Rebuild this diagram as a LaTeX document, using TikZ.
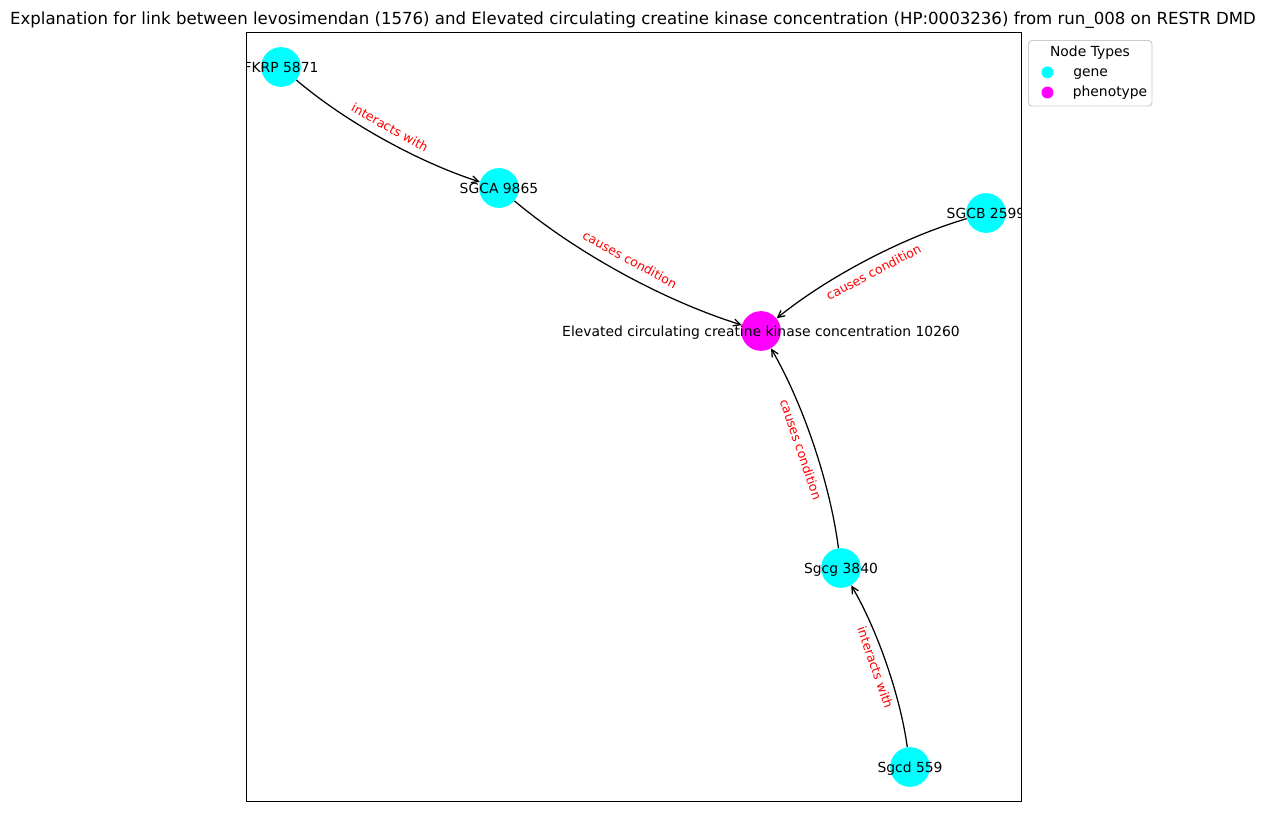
\documentclass[tikz,border=0pt]{standalone}
\usepackage{fontspec}
\setmainfont{DejaVu Sans}
\usetikzlibrary{arrows.meta}
\definecolor{genecol}{RGB}{0,255,255}
\definecolor{phencol}{RGB}{255,0,255}
\definecolor{framegray}{gray}{0.8}

\tikzset{
  gene/.style={circle, fill=genecol, draw=none, minimum size=28.6pt, inner sep=0pt},
  phen/.style={circle, fill=phencol, draw=none, minimum size=28.6pt, inner sep=0pt},
  nlabel/.style={font=\fontsize{10}{12}\selectfont, text depth=0pt, inner sep=0pt, text=black},
  elabel/.style={font=\fontsize{9}{11}\selectfont, text=red, text depth=0pt, inner sep=0pt, sloped},
  link/.style={-{Straight Barb[length=5pt,width=5pt]}, line width=0.9pt},
}

\begin{document}
\begin{tikzpicture}[x=0.72pt, y=-0.72pt]
\useasboundingbox (0,0) rectangle (1266,812);

% title
\node[anchor=base, inner sep=0pt] (title) at (633,24)
  {\resizebox{897pt}{\height}{\fontsize{12}{14}\selectfont Explanation for link between levosimendan (1576) and Elevated circulating creatine kinase concentration (HP:0003236) from run\_008 on RESTR DMD}};

\begin{scope}
  \clip (246.5,32.5) rectangle (1021.5,801.5);

  % nodes
  \node[gene, label={[nlabel]center:FKRP 5871}] (fkrp) at (281,67) {};
  \node[gene, label={[nlabel]center:SGCA 9865}] (sgca) at (499,188) {};
  \node[gene, label={[nlabel]center:SGCB 2599}] (sgcb) at (986,213) {};
  \node[phen, label={[nlabel]center:Elevated circulating creatine kinase concentration 10260}] (ck) at (761,331) {};
  \node[gene, label={[nlabel]center:Sgcg 3840}] (sgcg) at (841,568) {};
  \node[gene, label={[nlabel]center:Sgcd 559}] (sgcd) at (910,767) {};

  % curved connectors
  \draw[link] (fkrp) .. controls (345.6,121.9) and (418.3,162.2) .. (sgca);
  \draw[link] (sgca) .. controls (576.8,253.1) and (664.1,300.8) .. (ck);
  \draw[link] (sgcb) .. controls (903.1,237.3) and (828.1,276.7) .. (ck);
  \draw[link] (sgcg) .. controls (830.1,483.7) and (803.5,404.7) .. (ck);
  \draw[link] (sgcd) .. controls (900.3,696.1) and (877.3,629.7) .. (sgcg);

  % connector labels, centred on the straight line between the nodes
  \path (fkrp.center) -- node[elabel] (l1) {interacts with} (sgca.center);
  \path (sgca.center) -- node[elabel] (l2) {causes condition} (ck.center);
  \path (sgcb.center) -- node[elabel] (l3) {causes condition} (ck.center);
  \path (sgcg.center) -- node[elabel] (l4) {causes condition} (ck.center);
  \path (sgcd.center) -- node[elabel] (l5) {interacts with} (sgcg.center);
\end{scope}

% axes frame
\draw[line width=0.8pt] (246.5,32.5) rectangle (1021.5,801.5);

% legend
\draw[rounded corners=2.5pt, draw=framegray, fill=white, line width=0.7pt] (1028.5,40.5) rectangle (1152,106);
\node[anchor=base, font=\fontsize{10}{12}\selectfont, inner sep=0pt] (legtitle) at (1090,56) {Node Types};
\fill[genecol] (1047.5,72.3) circle[radius=4.3pt];
\fill[phencol] (1047.5,92.5) circle[radius=4.3pt];
\node[anchor=base west, font=\fontsize{10}{12}\selectfont, inner sep=0pt] (leggene) at (1073,76.7) {gene};
\node[anchor=base west, font=\fontsize{10}{12}\selectfont, inner sep=0pt] (legphen) at (1072.5,96.7) {phenotype};
\end{tikzpicture}
\end{document}
